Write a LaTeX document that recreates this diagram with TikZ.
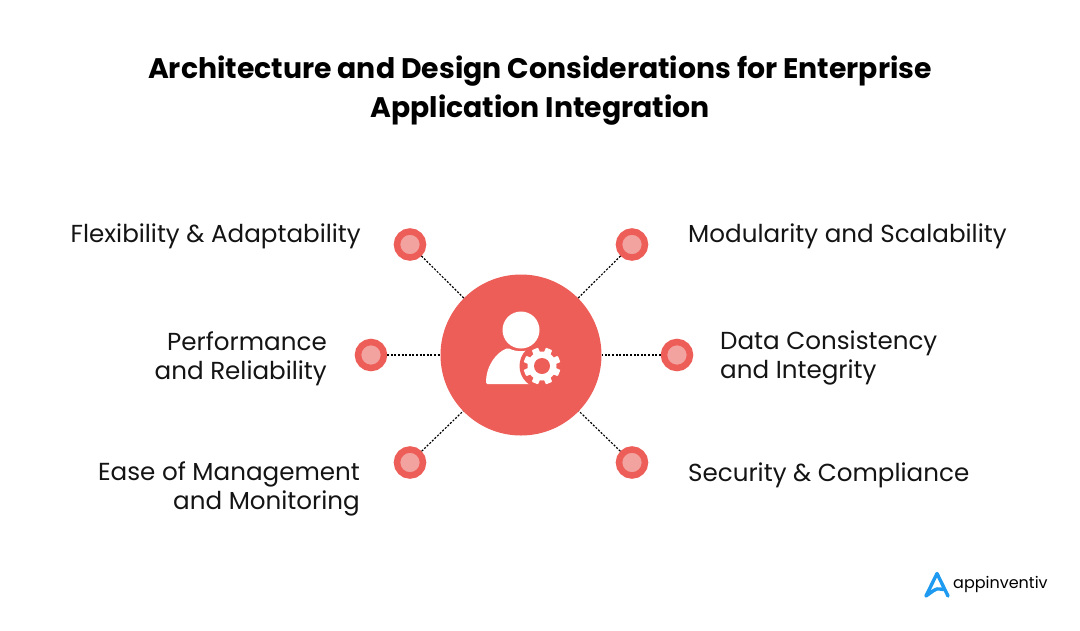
\documentclass[tikz,border=0pt]{standalone}
\usepackage{fontspec}
\setmainfont{Poppins}
\definecolor{hub}{HTML}{EE5E58}
\definecolor{dotin}{HTML}{F2A3A0}
\definecolor{logoblue}{HTML}{1E9BF0}
\tikzset{
 dotnode/.style={circle,draw=hub,line width=6.5pt,fill=dotin,minimum size=26pt,inner sep=0pt,outer sep=3.25pt},
 link/.style={black,line width=1.2pt,dash pattern=on 2pt off 1.6pt},
 lab/.style={inner sep=0pt,font=\fontsize{24.6}{28.6}\selectfont,text=black!92},
 ttl/.style={inner sep=0pt,font=\fontsize{28.3}{39.5}\selectfont\bfseries,align=center,text=black}
}
\begin{document}
\begin{tikzpicture}[x=1pt,y=-1pt]
\useasboundingbox (0,0) rectangle (1080,630);
\fill[white] (0,0) rectangle (1080,630);
\node[ttl] (title) at (540,90.5) {Architecture and Design Considerations for Enterprise\\Application Integration};
\node[circle,fill=hub,minimum size=161pt,inner sep=0pt,outer sep=0pt] (hub) at (521,355) {};
\node[dotnode] (a) at (410,244.5) {};
\node[dotnode] (b) at (632,244.5) {};
\node[dotnode] (c) at (371,355) {};
\node[dotnode] (d) at (677,355) {};
\node[dotnode] (e) at (410,462.5) {};
\node[dotnode] (f) at (632,462.5) {};
\foreach \n in {a,b,c,d,e,f} \draw[link] (\n) -- (hub);
% icon
\fill[white] (521,330) circle (18.5);
\fill[white,rounded corners=1.5pt] (486,384) .. controls (486,365) and (497,352) .. (508,348) .. controls (516,352) and (526,352) .. (534,348) -- (545,384) -- cycle;
\fill[hub] (542,366) circle (22.5);
\fill[hub] (530,385) rectangle (570,392);
\begin{scope}[shift={(542,366)}]
\fill[white] (0,0) circle (14.5);
\foreach \t in {0,45,...,315}
  \fill[white,rotate=\t+22.5,rounded corners=0.8pt] (-3.4,-12) rectangle (3.4,-18.5);
\fill[hub] (0,0) circle (8);
\end{scope}
% labels
\node[lab,anchor=east] (la) at (361,236) {Flexibility \& Adaptability};
\node[lab,anchor=east,align=right] (lc) at (327,359) {Performance\\and Reliability};
\node[lab,anchor=east,align=right] (le) at (360,489) {Ease of Management\\and Monitoring};
\node[lab,anchor=west] (lb) at (688,236) {Modularity and Scalability};
\node[lab,anchor=west,align=left] (ld) at (720,358) {Data Consistency\\and Integrity};
\node[lab,anchor=west] (lf) at (688,475) {Security \& Compliance};
% logo
\draw[logoblue,line width=3.4pt,line join=round,line cap=round] (948,596) -- (937,573.5) -- (926,596) -- (933,591) .. controls (937,588.5) .. (943,589.5);
\node[inner sep=0pt,anchor=west,font=\fontsize{16}{20}\selectfont] (logo) at (953,584) {appinventiv};
\end{tikzpicture}
\end{document}
